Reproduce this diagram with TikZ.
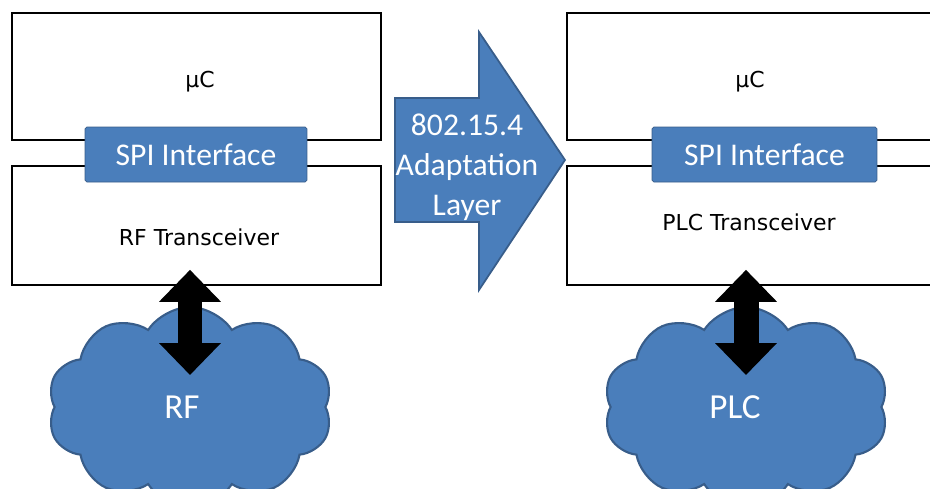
\documentclass[tikz,border=0pt]{standalone}
\usepackage{fontspec}
\setmainfont{Carlito}
\newfontfamily\labelfont{DejaVu Sans}
\usetikzlibrary{shapes.symbols, arrows.meta}

\definecolor{officeblue}{RGB}{74,126,187}
\definecolor{officeline}{RGB}{56,93,138}

\begin{document}
\begin{tikzpicture}[
    x=0.02cm, y=-0.02cm,
    block/.style={draw, line width=0.9pt, rectangle, inner sep=0pt},
    spi/.style={draw=officeline, fill=officeblue, rectangle, rounded corners=1pt, minimum height=1.1cm, text=white, font=\fontsize{18}{20}\selectfont},
    caption/.style={font=\labelfont\fontsize{12.5}{14}\selectfont},
    net/.style={cloud, cloud puffs=10, cloud puff arc=115, cloud ignores aspect, draw=officeline, line width=1.2pt, fill=officeblue, text=white, minimum width=5.7cm, minimum height=4.0cm, font=\fontsize{20}{22}\selectfont},
    dblarrow/.style={line width=0.5cm, <->, >={Triangle[length=0.64cm, width=1.2cm]}},
    blockarrow/.style={draw=officeline, fill=officeblue, line width=1pt, line join=miter},
    arrowtext/.style={text=white, align=center, font=\fontsize{18}{22.8}\selectfont}
  ]

  \useasboundingbox (0,0) rectangle (930,488);

  % left stack: RF node
  \node[block, minimum width=7.38cm, minimum height=2.54cm] (rfmcu) at (196.5,76.5) {};
  \node[block, minimum width=7.38cm, minimum height=2.38cm] (rfxcvr) at (196.5,225.5) {};
  \node[caption] (rfmculabel) at (200,82) {µC};
  \node[caption] (rfxcvrlabel) at (199,237) {RF Transceiver};
  \node[spi, minimum width=4.44cm] (rfspi) at (196,154.5) {SPI Interface};

  % right stack: PLC node (runs off the page)
  \node[block, minimum width=7.36cm, minimum height=2.54cm] (plcmcu) at (751,76.5) {};
  \node[block, minimum width=7.36cm, minimum height=2.38cm] (plcxcvr) at (751,225.5) {};
  \node[caption] (plcmculabel) at (750,82) {µC};
  \node[caption] (plcxcvrlabel) at (749,222) {PLC Transceiver};
  \node[spi, minimum width=4.5cm] (plcspi) at (764.5,154.5) {SPI Interface};

  % adaptation layer arrow
  \draw[blockarrow] (395,98) -- (479,98) -- (479,32) -- (565,160) -- (479,290) -- (479,222) -- (395,222) -- cycle;
  \node[arrowtext] (adapt) at (467,167) {802.15.4\\Adaptation\\Layer};

  % media clouds
  \node[net] (rfcloud) at (190,407) {};
  \node[net] (plccloud) at (746,407) {};
  \node[text=white, font=\fontsize{20}{22}\selectfont] (rflabel) at (182,407) {RF};
  \node[text=white, font=\fontsize{20}{22}\selectfont] (plclabel) at (735,407) {PLC};

  % links between transceivers and media
  \draw[dblarrow] ([yshift=0.32cm]rfxcvr.south -| rfcloud.center) -- ([yshift=0.64cm]rfcloud.center);
  \draw[dblarrow] ([yshift=0.32cm]plcxcvr.south -| plccloud.center) -- ([yshift=0.64cm]plccloud.center);

\end{tikzpicture}
\end{document}
